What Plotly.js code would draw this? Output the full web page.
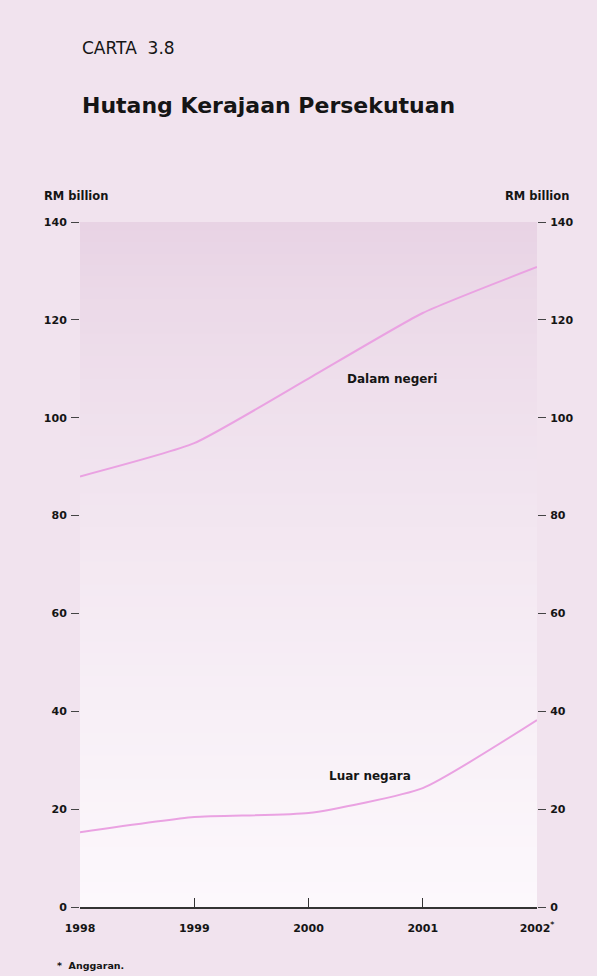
<!DOCTYPE html>
<html>
<head>
<meta charset="utf-8">
<script src="https://cdn.plot.ly/plotly-3.0.1.min.js"></script>
<style>
  html, body { margin: 0; padding: 0; background: #f1e3ee; }
  #chart { width: 597px; height: 976px; }
</style>
</head>
<body>
<div id="chart"></div>
<script>
// ---- Data (RM billion) ----
const years = ["1998", "1999", "2000", "2001", "2002"];
const yearLabels = ["1998", "1999", "2000", "2001", "2002<sup>*</sup>"];
const dalamNegeri = [88.0, 94.8, 108.0, 121.4, 130.8];
const luarNegara = [15.3, 18.4, 19.2, 24.3, 38.2];
const yTicks = [0, 20, 40, 60, 80, 100, 120, 140];

const FONT = "DejaVu Sans, Liberation Sans, Arial, sans-serif";
const INK = "#151515";
const LINE = "#eaa2e2";

// vertical gradient for the plot area, built from overlapping background stripes
const shapes = [];
const N = 60;
const gradTop = [232, 211, 228], gradBot = [252, 248, 252];
for (let i = 0; i < N; i++) {
  const t = i / (N - 1);
  const e = Math.pow(t, 0.8);
  const c = gradTop.map((v, k) => Math.round(v + (gradBot[k] - v) * e));
  shapes.push({
    type: "rect", xref: "paper", yref: "paper", layer: "below",
    x0: 0, x1: 1, y1: Math.min(1, 1 - i / N + 0.004), y0: 1 - (i + 1) / N,
    fillcolor: `rgb(${c[0]},${c[1]},${c[2]})`, line: { width: 0 }
  });
}

const traces = [
  {
    x: years, y: dalamNegeri, type: "scatter", mode: "lines",
    line: { color: LINE, width: 2, shape: "spline", smoothing: 0.5 },
    hoverinfo: "skip", showlegend: false
  },
  {
    x: years, y: luarNegara, type: "scatter", mode: "lines",
    line: { color: LINE, width: 2, shape: "spline", smoothing: 0.5 },
    hoverinfo: "skip", showlegend: false
  },
  {
    x: years, y: dalamNegeri, yaxis: "y2", type: "scatter", mode: "lines",
    line: { width: 0 }, opacity: 0, hoverinfo: "skip", showlegend: false
  }
];

const PH = 976 - 222 - 69, PW = 597 - 80 - 60;
const tickFont = { family: FONT, size: 11, color: INK, weight: "bold" };
const layout = {
  width: 597, height: 976,
  margin: { l: 80, r: 60, t: 222, b: 69 },
  paper_bgcolor: "#f1e3ee",
  plot_bgcolor: "#fbf7fb",
  font: { family: FONT, color: INK, size: 11 },
  showlegend: false,
  xaxis: {
    type: "category",
    range: [0, 4],
    tickmode: "array", tickvals: years, ticktext: yearLabels,
    ticks: "inside", ticklen: 9, tickwidth: 1, tickcolor: "#333",
    showline: true, linecolor: "#333", linewidth: 1.5,
    showgrid: false, zeroline: false,
    tickfont: tickFont,
    ticklabelstandoff: 10,
    fixedrange: true
  },
  yaxis: {
    range: [0, 140], tickmode: "array", tickvals: yTicks,
    ticks: "outside", ticklen: 8, tickwidth: 1, tickcolor: "#444",
    showline: false, showgrid: false, zeroline: false,
    tickfont: tickFont,
    ticklabelstandoff: 2,
    fixedrange: true
  },
  yaxis2: {
    overlaying: "y", side: "right",
    range: [0, 140], tickmode: "array", tickvals: yTicks,
    ticks: "outside", ticklen: 8, tickwidth: 1, tickcolor: "#444",
    showline: false, showgrid: false, zeroline: false,
    tickfont: tickFont,
    ticklabelstandoff: 2,
    fixedrange: true
  },
  shapes: shapes,
  annotations: [
    { text: "CARTA  3.8", xref: "paper", yref: "paper", x: 0, y: (976 - 48 - 69) / PH,
      xanchor: "left", yanchor: "middle", showarrow: false,
      font: { family: FONT, size: 17, color: INK } },
    { text: "<b>Hutang Kerajaan Persekutuan</b>", xref: "paper", yref: "paper", x: 0, y: (976 - 105 - 69) / PH,
      xanchor: "left", yanchor: "middle", showarrow: false,
      font: { family: FONT, size: 22, color: INK } },
    { text: "<b>RM billion</b>", xref: "paper", yref: "paper", x: -38 / PW, y: (976 - 196 - 69) / PH,
      xanchor: "left", yanchor: "middle", showarrow: false,
      font: { family: FONT, size: 11.5, color: INK } },
    { text: "<b>RM billion</b>", xref: "paper", yref: "paper", x: 1 + 34 / PW, y: (976 - 196 - 69) / PH,
      xanchor: "right", yanchor: "middle", showarrow: false,
      font: { family: FONT, size: 11.5, color: INK } },
    { text: "<b>Dalam negeri</b>", xref: "x", yref: "y", x: 2.73, y: 107.9,
      xanchor: "center", yanchor: "middle", showarrow: false,
      font: { family: FONT, size: 12, color: INK } },
    { text: "<b>Luar negara</b>", xref: "x", yref: "y", x: 2.54, y: 26.8,
      xanchor: "center", yanchor: "middle", showarrow: false,
      font: { family: FONT, size: 12, color: INK } },
    { text: "<b>*  Anggaran.</b>", xref: "paper", yref: "paper", x: -25 / PW, y: -(965 - 907) / PH,
      xanchor: "left", yanchor: "middle", showarrow: false,
      font: { family: FONT, size: 9.5, color: INK } }
  ]
};

Plotly.newPlot("chart", traces, layout, { staticPlot: true, displayModeBar: false });
</script>
</body>
</html>
